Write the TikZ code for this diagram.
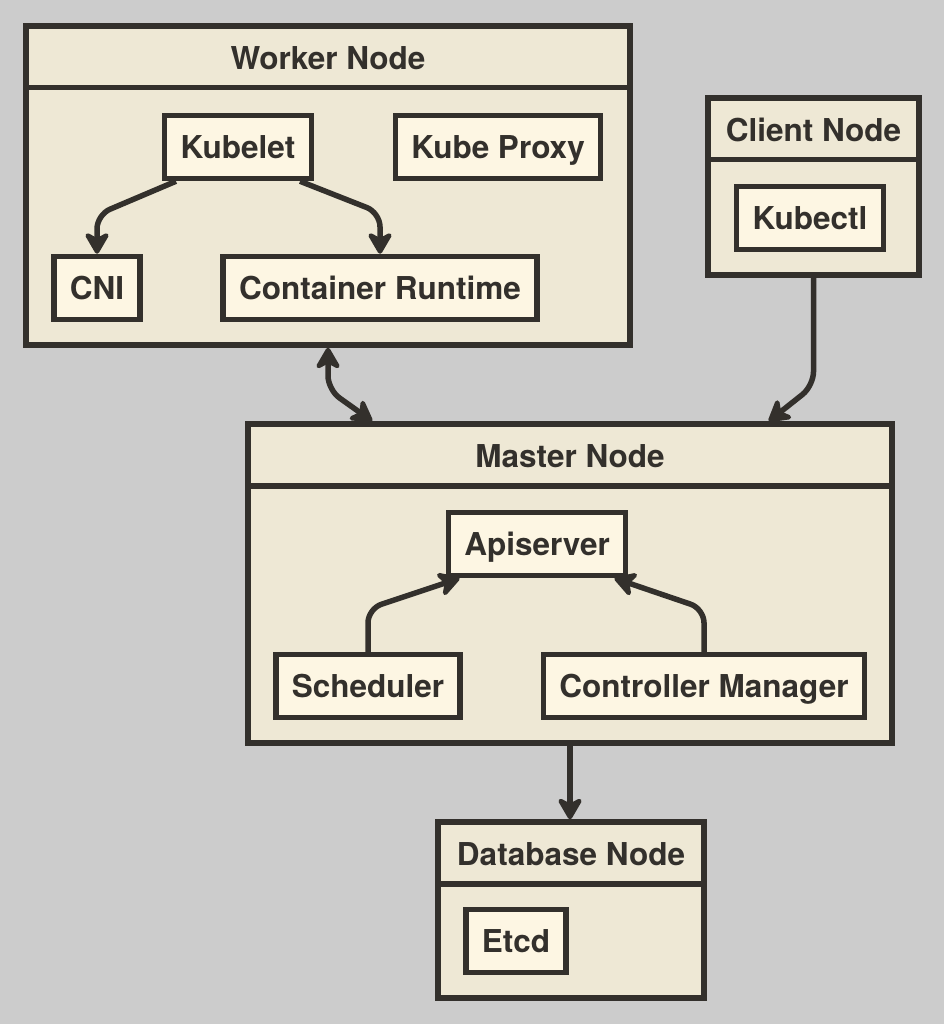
\documentclass[tikz,border=0pt]{standalone}
\usepackage{fontspec}
\setmainfont{TeX Gyre Heros}
\usetikzlibrary{arrows.meta}
\definecolor{bgc}{HTML}{CCCCCC}
\definecolor{contc}{HTML}{EEE8D5}
\definecolor{boxc}{HTML}{FDF6E3}
\definecolor{linec}{HTML}{33302C}

\tikzset{
  cont/.style={draw=linec, fill=contc, line width=5.5pt, rectangle, inner sep=0pt},
  box/.style={draw=linec, fill=boxc, line width=5.5pt, minimum height=63pt, inner xsep=16pt,
    text height=23pt, text depth=0pt, font=\fontsize{31.5}{36}\selectfont\bfseries, text=linec},
  title/.style={font=\fontsize{31.5}{36}\selectfont\bfseries, text=linec, text height=23pt,
    text depth=0pt, inner sep=0pt},
  hline/.style={draw=linec, line width=5.5pt},
  conn/.style={draw=linec, line width=5.5pt, rounded corners=14pt,
    -{Stealth[length=26pt 0,width=30pt 0,inset=8pt 0,line join=round,round]}},
  bothconn/.style={conn,
    {Stealth[length=26pt 0,width=30pt 0,inset=8pt 0,round]}-{Stealth[length=26pt 0,width=30pt 0,inset=8pt 0,round]}},
}

\begin{document}
\begin{tikzpicture}[x=1pt,y=-1pt]
  \useasboundingbox[fill=bgc] (0,0) rectangle (944,1024);

  % containers
  \node[cont, minimum width=604pt, minimum height=319pt] (worker) at (328,185.5) {};
  \node[cont, minimum width=211pt, minimum height=177pt] (client) at (813.5,186.5) {};
  \node[cont, minimum width=644pt, minimum height=319pt] (master) at (570,583.5) {};
  \node[cont, minimum width=266pt, minimum height=176pt] (database) at (571,910) {};

  \draw[hline] ([yshift=-64.5pt]worker.north west) -- ([yshift=-64.5pt]worker.north east);
  \draw[hline] ([yshift=-64.5pt]client.north west) -- ([yshift=-64.5pt]client.north east);
  \draw[hline] ([yshift=-64.5pt]master.north west) -- ([yshift=-64.5pt]master.north east);
  \draw[hline] ([yshift=-64.5pt]database.north west) -- ([yshift=-64.5pt]database.north east);

  \node[title] (workertitle) at ([yshift=-35pt]worker.north) {Worker Node};
  \node[title] (clienttitle) at ([yshift=-35pt]client.north) {Client Node};
  \node[title] (mastertitle) at ([yshift=-35pt]master.north) {Master Node};
  \node[title] (databasetitle) at ([yshift=-35pt]database.north) {Database Node};

  % boxes
  \node[box] (kubelet) at (238,147) {Kubelet};
  \node[box] (proxy) at (498,147) {Kube Proxy};
  \node[box] (cni) at (97,288) {CNI};
  \node[box] (runtime) at (380,288) {Container Runtime};
  \node[box] (kubectl) at (810,218) {Kubectl};
  \node[box] (apiserver) at (537,544) {Apiserver};
  \node[box] (scheduler) at (368,686) {Scheduler};
  \node[box] (controller) at (704,686) {Controller Manager};
  \node[box] (etcd) at (516,941) {Etcd};

  % connectors
  \draw[conn] ([xshift=14pt]kubelet.south west) -- ([yshift=39pt]cni.north) -- (cni.north);
  \draw[conn] ([xshift=-14pt]kubelet.south east) -- ([yshift=41pt]runtime.north) -- (runtime.north);
  \draw[bothconn]
    (worker.south) -- ([yshift=-42pt]worker.south) -- ([xshift=127pt]master.north west);
  \draw[conn] (client.south) -- ([yshift=-108pt]client.south) -- ([xshift=-126pt]master.north east);
  \draw[conn] (scheduler.north) -- ([yshift=43pt]scheduler.north) -- ([xshift=14pt]apiserver.south west);
  \draw[conn] (controller.north) -- ([yshift=43pt]controller.north) -- ([xshift=-14pt]apiserver.south east);
  \draw[conn] (master.south) -- (master.south |- database.north);
\end{tikzpicture}
\end{document}
